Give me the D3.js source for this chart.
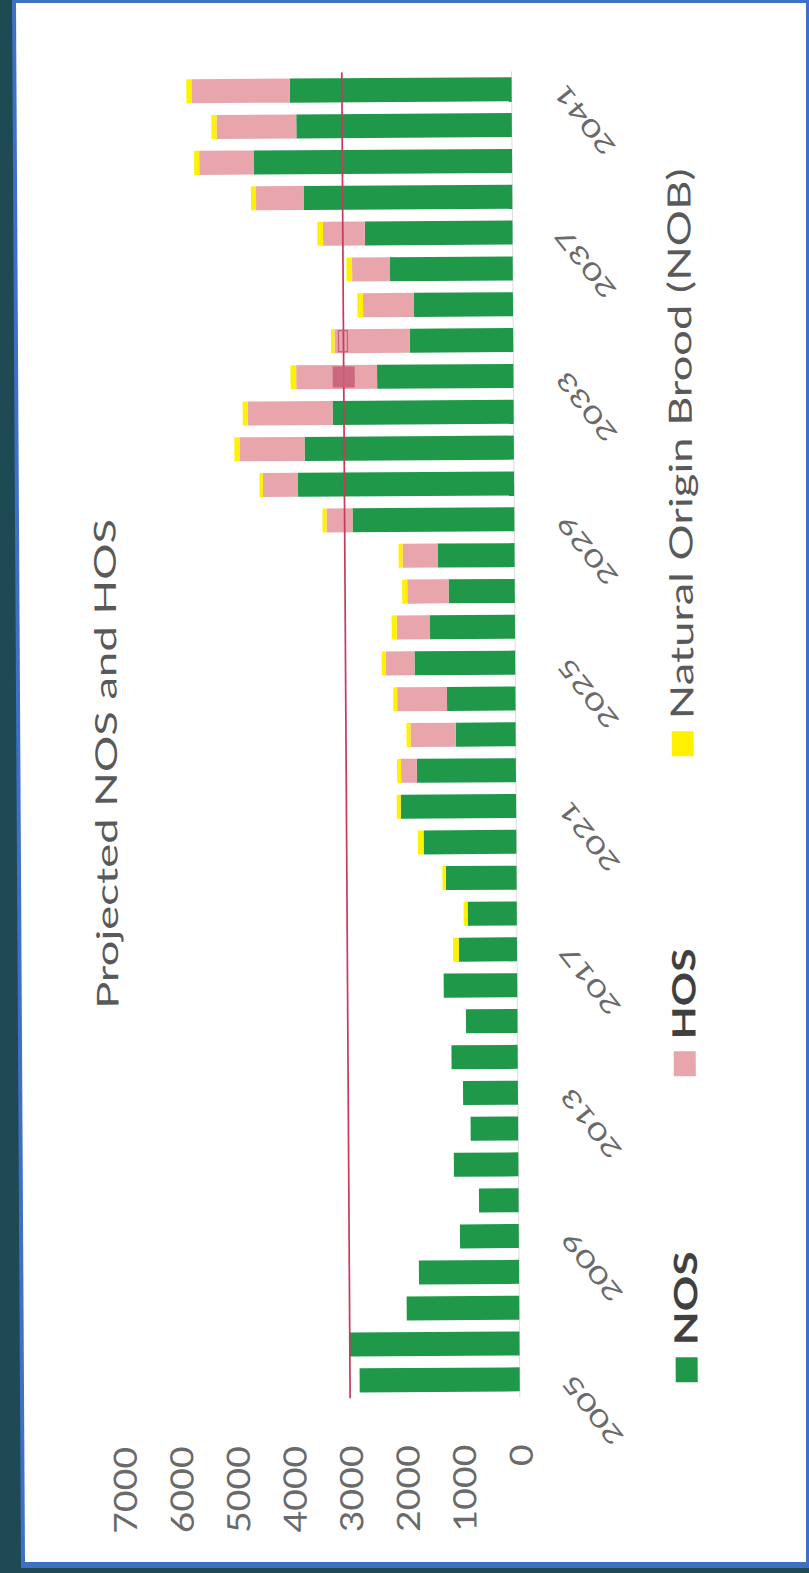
<!DOCTYPE html>
<html>
<head>
<meta charset="utf-8">
<script src="https://cdn.jsdelivr.net/npm/d3@7"></script>
<style>
  html, body { margin: 0; padding: 0; background: #1d4a53; }
  svg { display: block; }
</style>
</head>
<body>
<svg id="chart" width="809" height="1573"></svg>
<script>
// ---- data ----
const years = [2005, 2006, 2007, 2008, 2009, 2010, 2011, 2012, 2013, 2014,
               2015, 2016, 2017, 2018, 2019, 2020, 2021, 2022, 2023, 2024,
               2025, 2026, 2027, 2028, 2029, 2030, 2031, 2032, 2033, 2034,
               2035, 2036, 2037, 2038, 2039, 2040, 2041];
const nos = [2830, 3000, 1990, 1770, 1040, 700, 1140, 840, 970, 1170,
             910, 1300, 1030, 870, 1250, 1640, 2040, 1750, 1060, 1210,
             1780, 1510, 1170, 1360, 2860, 3820, 3700, 3200, 2410, 1830,
             1750, 2170, 2610, 3690, 4570, 3810, 3920];
const hos = [0, 0, 0, 0, 0, 0, 0, 0, 0, 0,
             0, 0, 0, 0, 0, 0, 0, 280, 800, 880,
             510, 580, 730, 620, 460, 620, 1150, 1500, 1430, 1330,
             900, 670, 740, 840, 960, 1410, 1740];
const nob = [0, 0, 0, 0, 0, 0, 0, 0, 0, 0,
             0, 0, 100, 70, 60, 100, 70, 70, 70, 70,
             70, 90, 90, 70, 70, 60, 90, 90, 100, 60,
             100, 100, 100, 90, 90, 90, 90];
const valueTicks = [0, 1000, 2000, 3000, 4000, 5000, 6000, 7000];
const targetLevel = 3000;
const markerYears = [2033, 2034];
const seriesKeys = ["NOS", "HOS", "NOB"];
const seriesLabels = ["NOS", "HOS", "Natural Origin Brood (NOB)"];
const seriesColors = ["#1f984a", "#e8a5ab", "#fff200"];
const titleText = "Projected NOS and HOS";

// ---- page frame ----
const W = 809, H = 1573;
const svg = d3.select("#chart");
svg.append("rect").attr("width", W).attr("height", H).attr("fill", "#1d4a53");
svg.append("path").attr("d", "M12,0 L809,0 L809,1568 L21,1568 Z").attr("fill", "#3f70c8");
svg.append("path").attr("d", "M16,3 L806,3 L806,1562 L25,1562 Z").attr("fill", "#ffffff");

// ---- chart, laid out landscape and turned a quarter turn ----
const tilt = svg.append("g").attr("transform", "rotate(-0.36,404.5,786.5)");
const g = tilt.append("g").attr("transform", `translate(0,${H}) rotate(-90)`);

const x = d3.scaleBand().domain(years).range([175, 1501])
  .paddingInner(0.33).paddingOuter(0.165);
const y = d3.scaleLinear().domain([0, 7000]).range([516, 120]);

const FONT = "Lato, 'Open Sans', sans-serif";
function stretchFor(sel, target) {
  return target / sel.node().getComputedTextLength();
}

// baseline
g.append("line")
  .attr("x1", x.range()[0]).attr("x2", x.range()[1])
  .attr("y1", y(0)).attr("y2", y(0))
  .attr("stroke", "#dcdcdc").attr("stroke-width", 1);

// stacked bars
const rows = years.map((yr, i) => ({ year: yr, NOS: nos[i], HOS: hos[i], NOB: nob[i] }));
const stacked = d3.stack().keys(seriesKeys)(rows);
g.selectAll("g.series").data(stacked).join("g")
  .attr("class", "series")
  .attr("fill", (d, i) => seriesColors[i])
  .selectAll("rect").data(d => d).join("rect")
  .attr("x", d => x(d.data.year))
  .attr("width", x.bandwidth())
  .attr("y", d => y(d[1]))
  .attr("height", d => Math.max(0, y(d[0]) - y(d[1])));

// target line
g.append("line")
  .attr("x1", x.range()[0]).attr("x2", x.range()[1])
  .attr("y1", y(targetLevel)).attr("y2", y(targetLevel))
  .attr("stroke", "#c43b5c").attr("stroke-width", 1.7);

// markers on the target line
markerYears.forEach((yr, i) => {
  const cx = x(yr) + x.bandwidth() / 2, cy = y(targetLevel);
  if (i === 0) {
    g.append("rect").attr("x", cx - 10.5).attr("y", cy - 11).attr("width", 21).attr("height", 22)
      .attr("fill", "#c8607a").attr("opacity", 0.9);
  } else {
    g.append("rect").attr("x", cx - 10.5).attr("y", cy - 5).attr("width", 21).attr("height", 9)
      .attr("fill", "none").attr("stroke", "#c8607a").attr("stroke-width", 1.2);
  }
});

// value axis labels
const tickG = g.append("g").attr("font-family", FONT).attr("font-size", 32).attr("fill", "#6a6a6a");
const tickTexts = tickG.selectAll("text").data(valueTicks).join("text")
  .attr("text-anchor", "end").attr("dominant-baseline", "central")
  .text(d => d);
const tickStretch = stretchFor(tickTexts.filter(d => d === 7000), 87);
tickTexts.attr("transform", d => `translate(128,${y(d)}) scale(${tickStretch},1)`);

// year labels, every fourth year
const yearG = g.append("g").attr("font-family", FONT).attr("font-size", 24).attr("fill", "#6a6a6a");
const yearTexts = yearG.selectAll("text").data(years.filter((d, i) => i % 4 === 0)).join("text")
  .attr("text-anchor", "middle").attr("dominant-baseline", "central")
  .text(d => d);
const yearStretch = stretchFor(yearTexts.filter((d, i) => i === 0), 82);
yearTexts.attr("transform", d =>
  `translate(${x(d) + x.bandwidth() / 2 - 32},588) rotate(-38) scale(${yearStretch},1)`);

// title
const title = g.append("text")
  .attr("font-family", FONT).attr("font-size", 30).attr("fill", "#595959")
  .attr("text-anchor", "middle")
  .text(titleText);
title.attr("transform", `translate(811,117) scale(${stretchFor(title, 490)},1)`);

// legend
const legendStart = [189, 495, 815];
const legendTextLen = [94, 91, 551];
seriesLabels.forEach((label, i) => {
  const lx = legendStart[i];
  g.append("rect").attr("x", lx).attr("y", 672).attr("width", 25).attr("height", 22)
    .attr("fill", seriesColors[i]);
  const t = g.append("text")
    .attr("font-family", FONT).attr("font-size", 32)
    .attr("font-weight", i < 2 ? 700 : 400)
    .attr("fill", i < 2 ? "#404040" : "#595959")
    .text(label);
  t.attr("transform", `translate(${lx + 37},694) scale(${stretchFor(t, legendTextLen[i])},1)`);
});
</script>
</body>
</html>
